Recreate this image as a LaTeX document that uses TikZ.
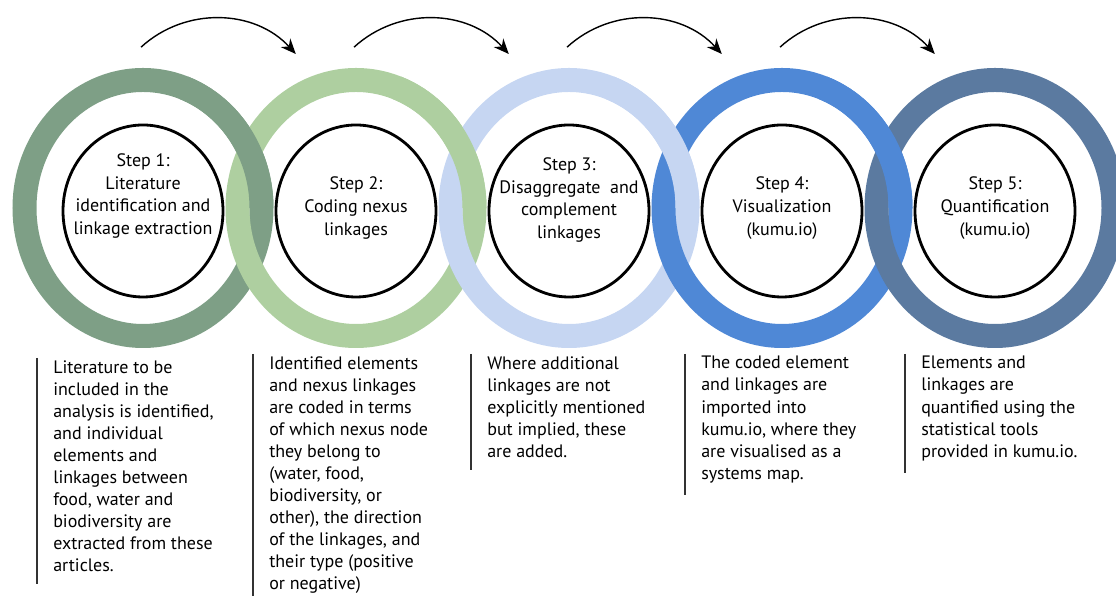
\documentclass[tikz,border=0pt]{standalone}
\usepackage{fontspec}
\setmainfont{PT Sans}
\usepackage{tikz}
\usetikzlibrary{positioning, arrows.meta}

\definecolor{ringA}{HTML}{7E9F86}
\definecolor{ringB}{HTML}{AECFA0}
\definecolor{ringC}{HTML}{C6D6F2}
\definecolor{ringD}{HTML}{4F88D6}
\definecolor{ringE}{HTML}{5B7AA0}

\begin{document}
\begin{tikzpicture}[
    ring/.style={line width=0.6cm},
    inner/.style={line width=2pt},
    steptext/.style={align=center, inner sep=0pt, font=\fontsize{12.8pt}{16.2pt}\selectfont},
    desc/.style={anchor=north west, align=left, inner sep=0pt, font=\fontsize{12.8pt}{15.7pt}\selectfont},
    bar/.style={line width=1pt, black!80},
    flow/.style={-{Stealth[length=3.8mm,width=3.2mm]}, line width=1pt}
  ]
    \useasboundingbox (0,0) rectangle (27.9,14.9);

    % Ring centres
    \foreach \i in {1,...,5} {
      \coordinate (c\i) at (5.325*\i-1.75, 9.7);
    }

    % Draw rings, each one over the one on its left
    \foreach \i/\col in {1/ringA, 2/ringB, 3/ringC, 4/ringD, 5/ringE} {
      \draw[ring, \col] (c\i) ellipse [x radius=2.9625, y radius=3.2];
    }

    % Upper crossings: the left ring passes over
    \foreach \i/\col in {1/ringA, 2/ringB, 3/ringC, 4/ringD} {
      \draw[ring, \col] ([xshift=2.9625cm]c\i) arc [start angle=0, end angle=70, x radius=2.9625, y radius=3.2];
    }

    % Inner circles
    \foreach \i in {1,...,5} {
      \draw[inner] ([yshift=-0.075cm]c\i) ellipse [x radius=2, y radius=2.15];
    }

    % Step labels
    \foreach \i/\dy/\txt in {1/0.3/{Step 1:\\Literature\\identification and\\linkage extraction},
                             2/0.0/{Step 2:\\Coding nexus\\linkages},
                             3/0.2/{Step 3:\\Disaggregate~ and\\complement\\linkages},
                             4/0.0/{Step 4:\\Visualization\\(kumu.io)},
                             5/0.0/{Step 5:\\Quantification\\(kumu.io)}} {
      \node[steptext] (step\i) at ([yshift=\dy cm]c\i) {\txt};
    }

    % Arrows between the steps
    \foreach \i in {1,...,4} {
      \coordinate (a\i) at (5.325*\i-1.8, 13.72);
      \coordinate (b\i) at (5.325*\i+2.07, 13.55);
      \draw[flow] (a\i) to[bend left=45] (b\i);
    }

    % Descriptions
    \node[desc] (d1) at (1.325, 5.9) {Literature to be\\included in the\\analysis is identified,\\and individual\\elements and\\linkages between\\food, water and\\biodiversity are\\extracted from these\\articles.};
    \node[desc] (d2) at (6.725, 6.0) {Identified elements\\and nexus linkages\\are coded in terms\\of which nexus node\\they belong to\\(water, food,\\biodiversity, or\\other), the direction\\of the linkages, and\\their type (positive\\or negative)};
    \node[desc] (d3) at (12.175, 6.0) {Where additional\\linkages are not\\explicitly mentioned\\but implied, these\\are added.};
    \node[desc] (d4) at (17.525, 6.0) {The coded element\\and linkages are\\imported into\\kumu.io, where they\\are visualised as a\\systems map.};
    \node[desc] (d5) at (23.025, 6.0) {Elements and\\linkages are\\quantified using the\\statistical tools\\provided in kumu.io.};

    % Bars left of the descriptions
    \foreach \i in {1,...,5} {
      \draw[bar] ([xshift=-0.4cm, yshift=0.05cm]d\i.north west) -- ([xshift=-0.4cm, yshift=-0.3cm]d\i.south west);
    }
  \end{tikzpicture}
\end{document}
